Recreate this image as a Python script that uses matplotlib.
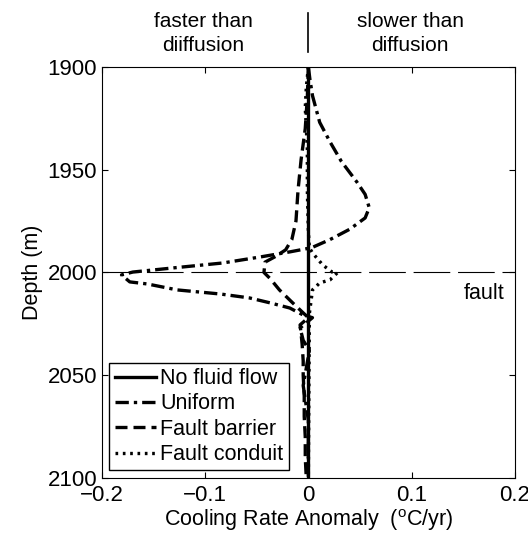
import matplotlib
matplotlib.use("Agg")
import matplotlib.pyplot as plt

plt.rcParams['font.family'] = ['Liberation Sans', 'DejaVu Sans']
plt.rcParams['mathtext.fontset'] = 'custom'
plt.rcParams['mathtext.rm'] = 'Liberation Sans'

# Data (depth in m, cooling rate anomaly in degC/yr)
depth_none = [1900, 2100]
rate_none = [0.0, 0.0]

depth_uniform = [1900, 1906, 1914, 1927, 1936.5, 1946, 1956, 1962, 1968.5, 1973.5,
                 1979, 1984, 1988, 1990, 1992.5, 1995.4, 1997.8, 1999.8, 2001.2,
                 2004.6, 2005.6, 2008.5, 2010.5, 2012.4, 2014.8, 2017.3, 2020.7,
                 2022, 2027, 2033, 2038, 2055, 2072, 2100]
rate_uniform = [0.0, 0.0015, 0.004, 0.011, 0.021, 0.032, 0.047, 0.055, 0.059, 0.055,
                0.040, 0.021, 0.003, -0.018, -0.047, -0.083, -0.131, -0.170, -0.181,
                -0.173, -0.156, -0.127, -0.085, -0.057, -0.037, -0.018, -0.005,
                0.004, -0.008, -0.005, 0.001, -0.005, 0.0, 0.0]

depth_barrier = [1900, 1915, 1930, 1945, 1960, 1975, 1984, 1989, 1992, 1995, 2000,
                 2003, 2008.5, 2014.4, 2019.2, 2022, 2025.5, 2030, 2035, 2043, 2050,
                 2060, 2070, 2080, 2090, 2100]
rate_barrier = [0.0, -0.001, -0.003, -0.007, -0.010, -0.012, -0.016, -0.022, -0.031,
                -0.042, -0.043, -0.037, -0.028, -0.016, -0.006, 0.0, -0.008, -0.007,
                -0.006, -0.005, -0.005, -0.004, -0.004, -0.003, -0.003, -0.002]

depth_conduit = [1900, 1910, 1920, 1930, 1940, 1960, 1980, 1988, 1990.5, 1996.4,
                 1999.8, 2000.2, 2003.6, 2005.1, 2008.5, 2012.4, 2020, 2100]
rate_conduit = [0.0, -0.002, -0.003, -0.002, -0.001, -0.001, 0.0, 0.001, 0.004, 0.014,
                0.023, 0.028, 0.021, 0.011, 0.004, 0.003, 0.001, 0.0]

fault_depth = 2000

fig = plt.figure(figsize=(5.28, 5.35), dpi=100)
ax = fig.add_axes([0.193, 0.1065, 0.782, 0.7685])

ax.axhline(fault_depth, color='black', lw=0.8, linestyle=(0, (33, 7)))
ax.plot(rate_none, depth_none, color='black', lw=2.4, label='No fluid flow')
ax.plot(rate_uniform, depth_uniform, color='black', lw=2.4,
        linestyle=(0, (4, 1.5, 1, 1.5)), label='Uniform')
ax.plot(rate_barrier, depth_barrier, color='black', lw=2.4,
        linestyle=(0, (3.6, 1.8)), label='Fault barrier')
ax.plot(rate_conduit, depth_conduit, color='black', lw=2.4,
        linestyle=(0, (0.8, 1.4)), label='Fault conduit')

ax.set_xlim(-0.2, 0.2)
ax.set_ylim(2100, 1900)
ax.set_xticks([-0.2, -0.1, 0, 0.1, 0.2])
ax.set_xticklabels(['\u22120.2', '\u22120.1', '0', '0.1', '0.2'])
ax.set_yticks([1900, 1950, 2000, 2050, 2100])
ax.tick_params(direction='in', top=True, right=True, length=4, labelsize=16)
ax.tick_params(axis='x', pad=5)
ax.set_xlabel(r'Cooling Rate Anomaly  ($^{\rm o}$C/yr)', fontsize=15.5, labelpad=1)
ax.set_ylabel('Depth (m)', fontsize=15.5, labelpad=3)

ax.text(0.19, 2010, 'fault', fontsize=15.5, ha='right', va='center')

leg = ax.legend(loc='lower left', fontsize=15.5, fancybox=False, framealpha=1,
                edgecolor='black', handlelength=1.9, handletextpad=0.2,
                labelspacing=0.2, borderpad=0.25, borderaxespad=0.35)
leg.get_frame().set_linewidth(1.0)

# annotation above the axes
ax.plot([0, 0], [1.036, 1.131], transform=ax.get_xaxis_transform(),
        color='black', lw=1.2, clip_on=False)
fig.text(0.385, 0.938, 'faster than\ndiiffusion', fontsize=15, ha='center',
         va='center', linespacing=1.32)
fig.text(0.777, 0.938, 'slower than\ndiffusion', fontsize=15, ha='center',
         va='center', linespacing=1.32)

fig.savefig('out.png', dpi=100)
